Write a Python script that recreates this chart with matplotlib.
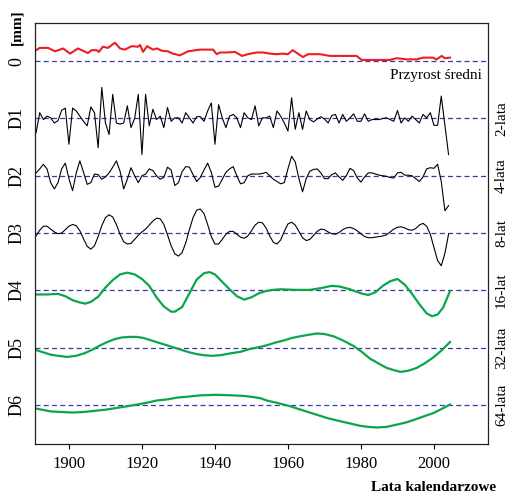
import numpy as np
import matplotlib
matplotlib.use('Agg')
import matplotlib.pyplot as plt

plt.rcParams['font.family'] = 'Liberation Serif'

# mean increment (red)
mean_years = [1891, 1892, 1894.3, 1896.2, 1898.4, 1900.3, 1902.5, 1905.2, 1906.2, 1907.6, 1908.2, 1909.3,
              1910.7, 1912.6, 1914, 1915.3, 1917.2, 1918.9, 1919.5, 1920.3, 1921.4, 1923, 1924.1, 1925.5,
              1927.1, 1928.5, 1930.4, 1932.6, 1935.9, 1939.5, 1940.5, 1941.4, 1943.3, 1945.5, 1947.4, 1949,
              1951.4, 1953.2, 1955.1, 1956.9, 1958.6, 1960, 1961.3, 1962.7, 1964.1, 1965.5, 1968.8, 1971.5,
              1976.1, 1978.8, 1980.2, 1983.3, 1987.9, 1989.8, 1992.5, 1995.2, 1997, 1999.7, 2000.7, 2002.1,
              2003, 2004.4]
mean_vals = [0.19, 0.23, 0.23, 0.17, 0.22, 0.13, 0.22, 0.14, 0.19, 0.19, 0.16, 0.25,
             0.23, 0.32, 0.22, 0.20, 0.26, 0.25, 0.28, 0.16, 0.26, 0.20, 0.22, 0.18,
             0.17, 0.13, 0.10, 0.17, 0.20, 0.20, 0.12, 0.15, 0.15, 0.16, 0.09, 0.12,
             0.15, 0.15, 0.13, 0.12, 0.13, 0.12, 0.19, 0.13, 0.07, 0.12, 0.12, 0.09,
             0.09, 0.09, 0.02, 0.02, 0.02, 0.05, 0.03, 0.03, 0.06, 0.06, 0.03, 0.09,
             0.05, 0.06]

years = list(range(1891, 2005))

d1 = [-0.25, 0.10, -0.02, 0.04, 0.01, -0.08, -0.04, 0.14, 0.18, -0.45, 0.18, 0.13, 0.04, -0.05, -0.13, 0.20,
      0.10, -0.51, 0.54, -0.08, -0.28, 0.42, -0.08, -0.10, -0.08, 0.22, -0.16, 0.00, 0.42, -0.63, 0.42, -0.13,
      0.16, -0.02, 0.04, -0.16, 0.19, -0.05,
      0.01, 0.01, -0.08, 0.10, 0.01, -0.08, 0.03, 0.03, -0.05, 0.13, 0.27, -0.45, 0.24, 0.01, -0.16, 0.04,
      0.07, 0.01, -0.16, 0.10, 0.01, -0.02, 0.22, -0.13, 0.01, 0.01, 0.04, -0.16, 0.13, 0.04, -0.08, -0.22,
      0.36, -0.19, 0.10, -0.19, 0.13, -0.02,
      -0.06, -0.01, 0.03, -0.01, -0.08, 0.05, 0.07, -0.08, 0.07, -0.05, 0.01, 0.08, -0.05, -0.05, 0.08, -0.05,
      -0.02, -0.02, -0.02, 0.00, 0.01, -0.02, -0.05, 0.14, -0.08, 0.01, -0.05, 0.04, -0.02, -0.08, 0.07, 0.01,
      0.10, -0.12, -0.12, 0.39, -0.12, -0.63]

d2 = [0.05, 0.12, 0.20, 0.12, -0.12, -0.23, -0.12, 0.12, 0.22, -0.05, -0.26, 0.05, 0.26, 0.06, -0.15, -0.12,
      0.03, 0.02, -0.06, -0.02, 0.05, 0.15, 0.26, 0.08, -0.23, -0.06, 0.14, 0.00, -0.12, 0.00, 0.03, 0.12,
      0.09, 0.00, -0.06, -0.03, 0.15, 0.10,
      -0.17, -0.12, 0.07, 0.16, 0.15, 0.02, -0.10, -0.03, 0.10, 0.22, 0.06, -0.20, -0.18, -0.06, 0.06, 0.12,
      0.16, 0.00, -0.14, -0.12, 0.00, 0.03, 0.03, 0.03, 0.04, 0.06, 0.00, -0.06, -0.10, -0.14, -0.12, 0.12,
      0.34, 0.24, -0.05, -0.28, -0.05, 0.08,
      0.11, 0.12, 0.05, -0.05, -0.05, 0.02, 0.05, -0.02, -0.08, 0.00, 0.13, 0.09, -0.04, -0.11, -0.02, 0.05,
      0.05, 0.03, 0.01, 0.00, -0.01, -0.03, -0.04, 0.05, 0.06, 0.01, 0.01, 0.00, -0.05, -0.10, -0.02, 0.12,
      0.14, 0.13, 0.20, -0.10, -0.61, -0.52]

d3 = [-0.05, 0.05, 0.12, 0.12, 0.07, 0.02, -0.01, 0.00, 0.06, 0.12,
      0.15, 0.13, 0.04, -0.10, -0.23, -0.28, -0.22, -0.06, 0.13, 0.27,
      0.32, 0.28, 0.15, -0.02, -0.15, -0.19, -0.18, -0.11, -0.04, 0.02,
      0.07, 0.14, 0.21, 0.26, 0.25, 0.15, -0.03, -0.22, -0.36, -0.40,
      -0.34, -0.17, 0.06, 0.27, 0.40, 0.42, 0.34, 0.15, -0.06, -0.19,
      -0.19, -0.11, -0.02, 0.03, 0.03, -0.02, -0.07, -0.09, -0.05, 0.04,
      0.14, 0.19, 0.18, 0.09, -0.05, -0.16, -0.19, -0.12, 0.03, 0.16,
      0.19, 0.14, 0.03, -0.08, -0.13, -0.11, -0.04, 0.03, 0.07, 0.06,
      0.02, -0.01, -0.02, 0.01, 0.06, 0.09, 0.10, 0.08, 0.04, -0.01,
      -0.06, -0.08, -0.08, -0.07, -0.06, -0.05, -0.03, 0.02, 0.07, 0.10,
      0.11, 0.09, 0.06, 0.05, 0.08, 0.14, 0.17, 0.12, -0.02, -0.25,
      -0.48, -0.57, -0.35, -0.02]

d4_years = [1891, 1894, 1897, 1899, 1901, 1903, 1904.5, 1906, 1908, 1910, 1912, 1914, 1916, 1918, 1920,
            1922, 1924, 1926, 1928, 1929, 1931, 1933, 1935, 1937, 1938.5, 1940, 1942, 1944, 1946, 1948,
            1950, 1952, 1954, 1956, 1958, 1962, 1966, 1969, 1972, 1974, 1977, 1980, 1982, 1984, 1986,
            1988, 1990, 1992, 1994, 1996, 1998, 1999.5, 2001, 2002.5, 2004.4]
d4 = [-0.07, -0.07, -0.06, -0.10, -0.17, -0.21, -0.23, -0.20, -0.11, 0.05, 0.18, 0.28, 0.31, 0.28, 0.20,
      0.08, -0.12, -0.28, -0.37, -0.37, -0.29, -0.05, 0.19, 0.30, 0.32, 0.28, 0.15, 0.02, -0.10, -0.16,
      -0.12, -0.05, -0.01, 0.01, 0.02, 0.01, 0.01, 0.04, 0.08, 0.07, 0.02, -0.05, -0.08, -0.03, 0.08,
      0.16, 0.20, 0.10, -0.06, -0.24, -0.40, -0.45, -0.42, -0.30, -0.01]

d5_years = [1891, 1893, 1895, 1897, 1899.5, 1902, 1904.5, 1906.5, 1908.5, 1910.5, 1912.5, 1914.5, 1916.7,
            1918.5, 1920.5, 1922.5, 1925, 1927, 1929, 1931, 1933, 1935, 1937, 1939, 1941.5, 1944, 1947,
            1949.6, 1952, 1954, 1956.5, 1959, 1961, 1963.3, 1966, 1968, 1970, 1972.5, 1975, 1978, 1980,
            1982.5, 1985, 1987, 1989, 1990.8, 1993, 1995.3, 1997.5, 1999.8, 2002, 2004.4]
d5 = [-0.04, -0.08, -0.12, -0.14, -0.16, -0.14, -0.09, -0.03, 0.04, 0.10, 0.15, 0.18, 0.19,
      0.19, 0.17, 0.13, 0.08, 0.04, 0.00, -0.04, -0.08, -0.11, -0.13, -0.14, -0.13, -0.10, -0.07,
      -0.02, 0.01, 0.04, 0.09, 0.13, 0.17, 0.20, 0.23, 0.25, 0.24, 0.20, 0.13, 0.03, -0.06,
      -0.19, -0.28, -0.35, -0.39, -0.42, -0.40, -0.35, -0.27, -0.17, -0.05, 0.10]

d6_years = [1891, 1895, 1898, 1901, 1904, 1907, 1910, 1913, 1916, 1919.5, 1922, 1924, 1927, 1929.5, 1933,
            1936, 1940.5, 1945, 1948, 1950.5, 1952.5, 1954.2, 1957, 1960.6, 1964, 1968, 1971, 1974.3, 1977,
            1979.7, 1982, 1984.3, 1987, 1989.8, 1992.5, 1995.3, 1997.5, 1999.8, 2002, 2004.4]
d6 = [-0.06, -0.11, -0.12, -0.13, -0.12, -0.10, -0.08, -0.05, -0.02, 0.02, 0.05, 0.08, 0.10, 0.13, 0.15,
      0.17, 0.18, 0.17, 0.16, 0.14, 0.12, 0.08, 0.04, -0.02, -0.09, -0.17, -0.23, -0.28, -0.32,
      -0.36, -0.38, -0.39, -0.38, -0.34, -0.30, -0.24, -0.19, -0.14, -0.07, 0.01]

row_labels = ['0', 'D1', 'D2', 'D3', 'D4', 'D5', 'D6']
right_labels = ['2-lata', '4-lata', '8-lat', '16-lat', '32-lata', '64-lata']

fig = plt.figure(figsize=(5.07, 4.94), dpi=100)
ax = fig.add_axes([0.069, 0.101, 0.8935, 0.8523])

for i in range(7):
    ax.axhline(-i, color='#3a3aa6', lw=0.9, ls=(0, (4, 2.6)), zorder=1)

ax.plot(mean_years, mean_vals, color='#ee1c25', lw=1.5, zorder=2)
ax.plot(years, np.array(d1) - 1, color='black', lw=0.8, zorder=2)
ax.plot(years, np.array(d2) - 2, color='black', lw=0.8, zorder=2)
ax.plot(years, np.array(d3) - 3, color='black', lw=0.8, zorder=2)
ax.plot(d4_years, np.array(d4) - 4, color='#0aa64c', lw=1.6, zorder=2)
ax.plot(d5_years, np.array(d5) - 5, color='#0aa64c', lw=1.6, zorder=2)
ax.plot(d6_years, np.array(d6) - 6, color='#0aa64c', lw=1.6, zorder=2)

ax.set_xlim(1890.7, 2014.8)
ax.set_ylim(-6.68, 0.663)
ax.set_xticks([1900, 1920, 1940, 1960, 1980, 2000])
ax.tick_params(axis='x', direction='out', length=3.5, width=0.8, pad=5, labelsize=12)
ax.set_yticks([0, -1, -2, -3, -4, -5, -6])
ax.set_yticklabels(row_labels, rotation=90, va='center')
ax.tick_params(axis='y', length=0, pad=7, labelsize=13)
for s in ax.spines.values():
    s.set_linewidth(0.9)
    s.set_color('#222222')

ax.text(2013.2, -0.25, 'Przyrost średni', ha='right', va='center', fontsize=11)

for i, lab in enumerate(right_labels):
    ax.text(1.03, -(i + 1), lab, rotation=90, ha='center', va='center', fontsize=11,
            transform=ax.get_yaxis_transform())

fig.text(17 / 507, 1 - 27 / 494, '[mm]', rotation=90, ha='center', va='center',
         fontsize=11, fontweight='bold')
fig.text(496 / 507, 1 - 487 / 494, 'Lata kalendarzowe', ha='right', va='center',
         fontsize=11, fontweight='bold')

fig.savefig('out.png', dpi=100)
